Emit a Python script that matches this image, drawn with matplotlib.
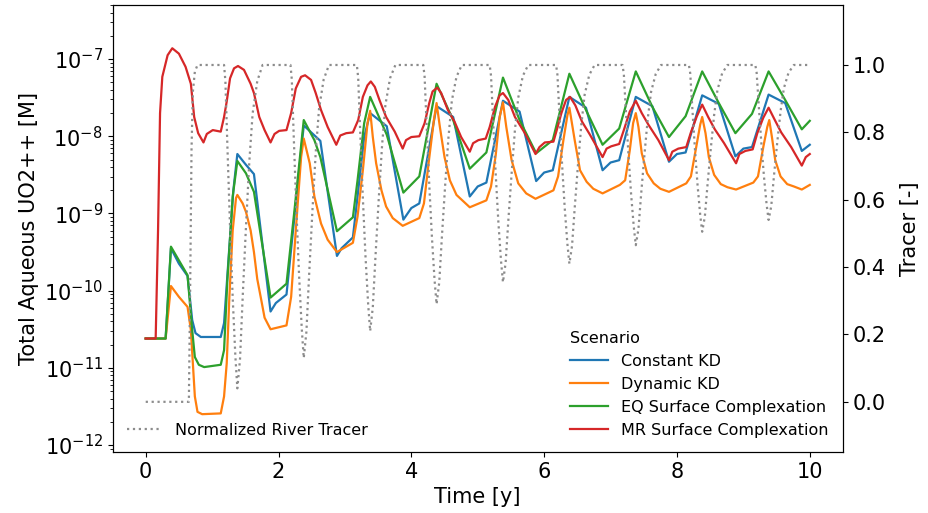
import numpy as np
import matplotlib
matplotlib.use("Agg")
import matplotlib.pyplot as plt
from matplotlib.ticker import NullFormatter, FixedLocator

# ---------------- data (concentrations stored as log10 [M]) ----------------
scenarios = ["Constant KD", "Dynamic KD", "EQ Surface Complexation", "MR Surface Complexation"]
colors = ["#1f77b4", "#ff7f0e", "#2ca02c", "#d62728"]

const_t = [0, 0.30, 0.38, 0.50, 0.63, 0.70, 0.75, 0.83, 1.13, 1.18, 1.26, 1.32, 1.38, 1.51, 1.63,
           1.88, 1.96, 2.12, 2.24, 2.38, 2.63, 2.88, 2.95, 3.12, 3.19, 3.29, 3.38, 3.63, 3.88, 4.00,
           4.12, 4.38, 4.63, 4.88, 5.00, 5.13, 5.38, 5.63, 5.88, 6.00, 6.13, 6.38, 6.63, 6.88, 7.00,
           7.13, 7.38, 7.63, 7.88, 8.00, 8.13, 8.38, 8.63, 8.88, 9.00, 9.13, 9.38, 9.63, 9.88, 10.0]
const_log = [-10.62, -10.62, -9.45, -9.65, -9.81, -10.38, -10.55, -10.60, -10.60, -10.42, -9.43, -8.70,
             -8.23, -8.37, -8.49, -10.27, -10.16, -10.05, -9.04, -7.86, -8.06, -9.55, -9.45, -9.31,
             -8.78, -8.01, -7.70, -7.87, -9.08, -8.93, -8.87, -7.61, -7.75, -8.78, -8.65, -8.60,
             -7.54, -7.68, -8.58, -8.47, -8.44, -7.49, -7.63, -8.44, -8.34, -8.31, -7.49, -7.61,
             -8.33, -8.23, -8.21, -7.47, -7.58, -8.26, -8.16, -8.14, -7.46, -7.57, -8.19, -8.11]

dyn_t = [0, 0.30, 0.38, 0.50, 0.63, 0.68, 0.71, 0.74, 0.78, 0.85, 1.13, 1.18, 1.22, 1.26, 1.31, 1.36,
         1.38, 1.46, 1.51, 1.58, 1.63, 1.68, 1.74, 1.79, 1.88, 2.12, 2.19, 2.26, 2.34, 2.38, 2.47,
         2.54, 2.64, 2.74, 2.88, 3.12, 3.19, 3.27, 3.34, 3.38, 3.42, 3.47, 3.55, 3.62, 3.72, 3.87,
         4.12, 4.19, 4.26, 4.34, 4.38, 4.43, 4.50, 4.58, 4.68, 4.88, 5.13, 5.20, 5.27, 5.33, 5.38,
         5.43, 5.51, 5.61, 5.73, 5.87, 6.14, 6.21, 6.29, 6.35, 6.38, 6.46, 6.54, 6.64, 6.74, 6.88,
         7.14, 7.22, 7.29, 7.34, 7.38, 7.42, 7.47, 7.55, 7.65, 7.75, 7.88, 8.14, 8.21, 8.29, 8.35,
         8.38, 8.43, 8.48, 8.56, 8.66, 8.76, 8.89, 9.15, 9.22, 9.30, 9.36, 9.39, 9.43, 9.48, 9.56,
         9.66, 9.76, 9.88, 10.0]
dyn_log = [-10.62, -10.62, -9.94, -10.08, -10.21, -10.51, -10.94, -11.37, -11.57, -11.60, -11.59,
           -11.37, -10.94, -10.08, -9.22, -8.80, -8.76, -8.87, -8.98, -9.22, -9.50, -9.85, -10.12,
           -10.35, -10.50, -10.45, -10.08, -9.22, -8.27, -8.03, -8.35, -8.78, -9.13, -9.34, -9.50,
           -9.38, -9.04, -8.44, -7.83, -7.67, -8.01, -8.35, -8.70, -8.91, -9.06, -9.16, -9.06,
           -8.87, -8.35, -7.79, -7.57, -7.88, -8.27, -8.57, -8.76, -8.92, -8.83, -8.65, -8.25,
           -7.75, -7.56, -7.88, -8.31, -8.61, -8.74, -8.81, -8.70, -8.52, -8.05, -7.73, -7.63,
           -8.05, -8.44, -8.59, -8.68, -8.74, -8.63, -8.57, -8.18, -7.83, -7.70, -7.88, -8.22,
           -8.48, -8.61, -8.68, -8.72, -8.61, -8.52, -8.14, -7.85, -7.75, -7.96, -8.27, -8.50,
           -8.62, -8.66, -8.69, -8.60, -8.52, -8.14, -7.88, -7.79, -8.01, -8.31, -8.52, -8.62,
           -8.65, -8.69, -8.63]

eq_t = [0, 0.30, 0.38, 0.63, 0.70, 0.74, 0.80, 0.88, 1.13, 1.18, 1.23, 1.31, 1.38, 1.51, 1.63, 1.88,
        2.12, 2.24, 2.38, 2.54, 2.63, 2.88, 3.12, 3.19, 3.29, 3.38, 3.63, 3.88, 4.12, 4.38, 4.63,
        4.88, 5.13, 5.38, 5.63, 5.88, 6.13, 6.38, 6.63, 6.88, 7.13, 7.38, 7.63, 7.88, 8.13, 8.38,
        8.63, 8.88, 9.13, 9.38, 9.63, 9.88, 10.0]
eq_log = [-10.62, -10.62, -9.43, -9.80, -10.51, -10.86, -10.96, -10.99, -10.96, -10.77, -9.86,
          -8.78, -8.32, -8.48, -8.72, -10.09, -9.91, -8.96, -7.79, -8.05, -8.27, -9.23, -9.05,
          -8.57, -7.83, -7.49, -7.98, -8.73, -8.52, -7.32, -7.79, -8.42, -8.21, -7.24, -7.79,
          -8.22, -8.05, -7.19, -7.66, -8.11, -7.90, -7.16, -7.62, -8.01, -7.74, -7.16, -7.57,
          -7.96, -7.71, -7.16, -7.53, -7.91, -7.80]

mr_t = [0, 0.15, 0.186, 0.216, 0.25, 0.33, 0.40, 0.50, 0.60, 0.68, 0.73, 0.79, 0.87, 0.92, 1.01,
        1.13, 1.18, 1.22, 1.27, 1.33, 1.39, 1.48, 1.58, 1.63, 1.71, 1.79, 1.88, 1.94, 2.01, 2.12,
        2.19, 2.26, 2.34, 2.40, 2.49, 2.56, 2.64, 2.74, 2.87, 2.93, 3.02, 3.12, 3.20, 3.27, 3.34,
        3.39, 3.45, 3.52, 3.62, 3.75, 3.87, 3.92, 4.00, 4.12, 4.20, 4.27, 4.32, 4.39, 4.45, 4.55,
        4.65, 4.75, 4.88, 4.93, 5.01, 5.12, 5.18, 5.26, 5.33, 5.38, 5.46, 5.56, 5.71, 5.87, 5.93,
        6.01, 6.14, 6.19, 6.26, 6.33, 6.39, 6.47, 6.57, 6.69, 6.88, 6.94, 7.01, 7.13, 7.20, 7.29,
        7.38, 7.47, 7.57, 7.72, 7.88, 7.93, 8.02, 8.14, 8.21, 8.30, 8.38, 8.47, 8.57, 8.71, 8.89,
        8.94, 9.03, 9.14, 9.21, 9.30, 9.38, 9.48, 9.57, 9.72, 9.88, 9.94, 10.0]
mr_log = [-10.62, -10.62, -9.21, -7.70, -7.23, -6.95, -6.86, -6.93, -7.10, -7.32, -7.75, -7.96,
          -8.08, -7.97, -7.92, -7.94, -7.75, -7.55, -7.25, -7.12, -7.09, -7.14, -7.32, -7.44,
          -7.75, -7.92, -8.08, -7.97, -7.93, -7.92, -7.70, -7.38, -7.23, -7.21, -7.27, -7.44,
          -7.66, -7.88, -8.11, -7.99, -7.96, -7.95, -7.79, -7.49, -7.34, -7.29, -7.36, -7.53,
          -7.75, -7.94, -8.16, -8.05, -8.01, -8.00, -7.83, -7.57, -7.42, -7.37, -7.44, -7.66,
          -7.81, -8.01, -8.20, -8.09, -8.05, -8.03, -7.88, -7.62, -7.47, -7.44, -7.53, -7.75,
          -7.96, -8.23, -8.14, -8.08, -8.07, -7.92, -7.70, -7.53, -7.49, -7.60, -7.81, -7.98,
          -8.27, -8.16, -8.13, -8.10, -7.92, -7.68, -7.54, -7.70, -7.85, -8.05, -8.31, -8.20,
          -8.16, -8.14, -7.95, -7.74, -7.59, -7.75, -7.91, -8.09, -8.35, -8.23, -8.19, -8.17,
          -7.96, -7.76, -7.63, -7.80, -7.95, -8.14, -8.38, -8.27, -8.23]

tracer_t = [0.00, 0.65, 0.67, 0.69, 0.71, 0.74, 0.78,
            1.18, 1.20, 1.23, 1.27, 1.31, 1.35, 1.38, 1.42, 1.46, 1.51, 1.56, 1.61, 1.68, 1.76,
            2.18, 2.20, 2.23, 2.27, 2.31, 2.35, 2.38, 2.42, 2.46, 2.51, 2.56, 2.61, 2.68, 2.76,
            3.18, 3.20, 3.23, 3.27, 3.31, 3.35, 3.38, 3.42, 3.46, 3.51, 3.56, 3.61, 3.68, 3.76,
            4.18, 4.20, 4.23, 4.27, 4.31, 4.35, 4.38, 4.42, 4.46, 4.51, 4.56, 4.61, 4.68, 4.76,
            5.18, 5.20, 5.23, 5.27, 5.31, 5.35, 5.38, 5.42, 5.46, 5.51, 5.56, 5.61, 5.68, 5.76,
            6.18, 6.20, 6.23, 6.27, 6.31, 6.35, 6.38, 6.42, 6.46, 6.51, 6.56, 6.61, 6.68, 6.76,
            7.18, 7.20, 7.23, 7.27, 7.31, 7.35, 7.38, 7.42, 7.46, 7.51, 7.56, 7.61, 7.68, 7.76,
            8.18, 8.20, 8.23, 8.27, 8.31, 8.35, 8.38, 8.42, 8.46, 8.51, 8.56, 8.61, 8.68, 8.76,
            9.18, 9.20, 9.23, 9.27, 9.31, 9.35, 9.38, 9.42, 9.46, 9.51, 9.56, 9.61, 9.68, 9.76,
            10.0]
tracer_v = [0.0, 0.0, 0.35, 0.75, 0.92, 0.98, 1.0,
            1.0, 0.952, 0.76, 0.52, 0.309, 0.136, 0.04, 0.126, 0.309, 0.52, 0.712, 0.856, 0.952, 1.0,
            1.0, 0.957, 0.783, 0.565, 0.374, 0.217, 0.13, 0.208, 0.374, 0.565, 0.739, 0.870, 0.957, 1.0,
            1.0, 0.961, 0.803, 0.605, 0.431, 0.289, 0.21, 0.281, 0.431, 0.605, 0.763, 0.882, 0.961, 1.0,
            1.0, 0.965, 0.823, 0.645, 0.489, 0.361, 0.29, 0.354, 0.489, 0.645, 0.787, 0.894, 0.965, 1.0,
            1.0, 0.968, 0.839, 0.678, 0.536, 0.420, 0.355, 0.413, 0.536, 0.678, 0.807, 0.903, 0.968, 1.0,
            1.0, 0.971, 0.853, 0.705, 0.575, 0.469, 0.41, 0.463, 0.575, 0.705, 0.823, 0.912, 0.971, 1.0,
            1.0, 0.973, 0.866, 0.733, 0.615, 0.519, 0.465, 0.513, 0.615, 0.733, 0.840, 0.920, 0.973, 1.0,
            1.0, 0.975, 0.876, 0.753, 0.644, 0.555, 0.505, 0.550, 0.644, 0.753, 0.852, 0.926, 0.975, 1.0,
            1.0, 0.977, 0.885, 0.770, 0.669, 0.586, 0.54, 0.581, 0.669, 0.770, 0.862, 0.931, 0.977, 1.0,
            1.0]

x_ticks = [0, 2, 4, 6, 8, 10]
conc_ticks = [1e-12, 1e-11, 1e-10, 1e-9, 1e-8, 1e-7]
tracer_ticks = [0.0, 0.2, 0.4, 0.6, 0.8, 1.0]

# ---------------- plot ----------------
fig = plt.figure(figsize=(9.29, 5.13), dpi=100)
ax = fig.add_axes([0.1211, 0.1189, 0.7863, 0.8713])
ax2 = ax.twinx()

series = [(const_t, const_log), (dyn_t, dyn_log), (eq_t, eq_log), (mr_t, mr_log)]
for name, (t, lg), c in zip(scenarios, series, colors):
    ax.plot(t, np.power(10.0, np.array(lg)), color=c, lw=1.6, label=name)

ax.set_yscale("log")
ax.set_ylim(10 ** -12.09, 10 ** -6.30)
ax.yaxis.set_major_locator(FixedLocator(conc_ticks))
ax.yaxis.set_minor_formatter(NullFormatter())
ax.set_xlim(-0.5, 10.5)
ax.set_xticks(x_ticks)

ax2.plot(tracer_t, tracer_v, ls=":", color="#8c8c8c", lw=1.6, label="Normalized River Tracer")
ax2.set_ylim(-0.149, 1.178)
ax2.set_yticks(tracer_ticks)

ax.set_xlabel("Time [y]", fontsize=15)
ax.set_ylabel("Total Aqueous UO2++ [M]", fontsize=15)
ax2.set_ylabel("Tracer [-]", fontsize=15, labelpad=10)
ax.tick_params(axis="both", which="major", labelsize=15)
ax2.tick_params(axis="y", labelsize=15)

ax.legend(title="Scenario", loc="lower right", frameon=False, fontsize=11.5,
          title_fontsize=11.5, alignment="left", handlelength=2.4)
ax2.legend(loc="lower left", frameon=False, fontsize=11.5, handlelength=2.2)

fig.savefig("out.png", dpi=100)
